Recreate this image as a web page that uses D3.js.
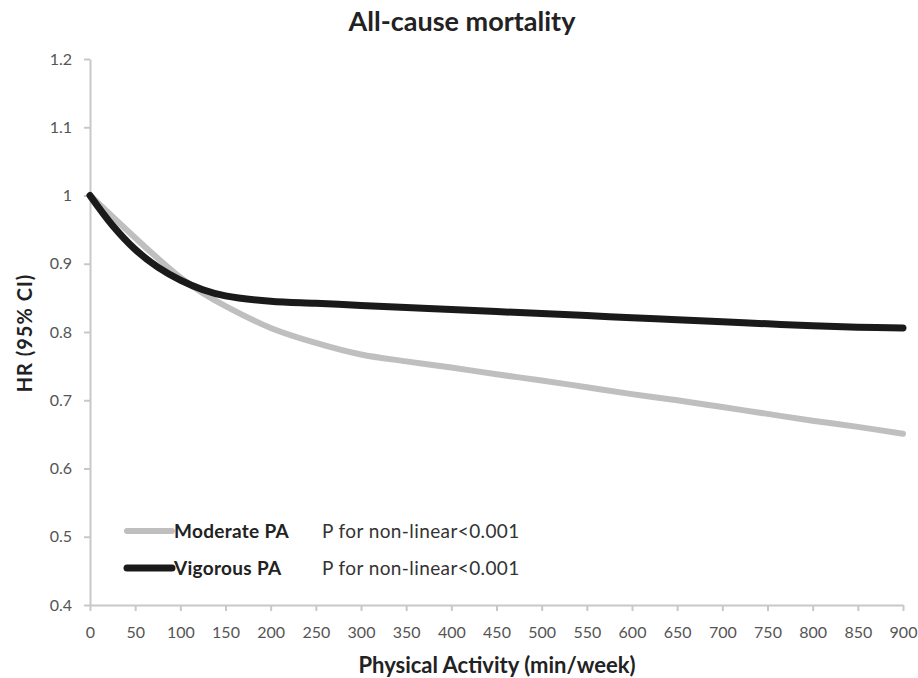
<!DOCTYPE html>
<html>
<head>
<meta charset="utf-8">
<script src="https://cdn.jsdelivr.net/npm/d3@7"></script>
<style>
  body { margin: 0; background: #fff; }
  text { font-family: Lato, "Open Sans", sans-serif; }
</style>
</head>
<body>
<div id="viz"></div>
<script>
// values
const minutes = [0, 25, 50, 75, 100, 125, 150, 200, 250, 300, 350, 400, 450, 500, 550, 600, 650, 700, 750, 800, 850, 900];
const moderate = [1.0, 0.969, 0.938, 0.908, 0.880, 0.857, 0.838, 0.806, 0.784, 0.767, 0.757, 0.748, 0.738, 0.729, 0.719, 0.709, 0.700, 0.690, 0.680, 0.670, 0.661, 0.651];
const vigorous = [1.0, 0.956, 0.921, 0.895, 0.876, 0.862, 0.853, 0.845, 0.842, 0.839, 0.836, 0.833, 0.830, 0.827, 0.824, 0.821, 0.818, 0.815, 0.812, 0.809, 0.807, 0.806];
const xTicks = d3.range(0, 901, 50);
const yTicks = [0.4, 0.5, 0.6, 0.7, 0.8, 0.9, 1, 1.1, 1.2];
const seriesNames = ["Moderate PA", "Vigorous PA"];
const pText = ["P for non-linear<0.001", "P for non-linear<0.001"];

const width = 918, height = 678;
const margin = {top: 59, right: 15, bottom: 73, left: 90};

const svg = d3.select('#viz').append('svg')
    .attr('width', width)
    .attr('height', height);

const x = d3.scaleLinear()
    .domain([0, 900])
    .range([margin.left, width - margin.right]);

const y = d3.scaleLinear()
    .domain([0.4, 1.2])
    .range([height - margin.bottom, margin.top]);

const axisColor = "#c8c8c8";
const labelColor = "#555";

// y axis
const yAxis = svg.append("g")
    .attr("transform", `translate(${margin.left},0)`)
    .call(d3.axisLeft(y).tickValues(yTicks).tickSize(6).tickSizeOuter(0)
      .tickFormat(d => d3.format("")(+d.toFixed(1))));
yAxis.selectAll("line, path").attr("stroke", axisColor).attr("stroke-width", 2);
yAxis.selectAll("text").attr("fill", labelColor).attr("font-size", 16).attr("dx", -9);

// x axis
const xAxis = svg.append("g")
    .attr("transform", `translate(0,${y(0.4)})`)
    .call(d3.axisBottom(x).tickValues(xTicks).tickSize(6).tickSizeOuter(0));
xAxis.selectAll("line, path").attr("stroke", axisColor).attr("stroke-width", 2);
xAxis.selectAll("text").attr("fill", labelColor).attr("font-size", 16)
    .attr("y", 33).attr("dy", 0);

// lines
const line = vals => d3.line()
    .x((d, i) => x(minutes[i]))
    .y(d => y(d))
    .curve(d3.curveCatmullRom.alpha(0.5))(vals);

svg.append("path")
    .attr("d", line(moderate))
    .attr("fill", "none")
    .attr("stroke", "#bfbfbf")
    .attr("stroke-width", 6)
    .attr("stroke-linecap", "round");

svg.append("path")
    .attr("d", line(vigorous))
    .attr("fill", "none")
    .attr("stroke", "#1a1a1a")
    .attr("stroke-width", 7)
    .attr("stroke-linecap", "round");

// legend
const legendColors = ["#bfbfbf", "#1a1a1a"];
const legend = svg.append("g");
seriesNames.forEach((name, i) => {
  const ly = 531 + i * 37;
  legend.append("line")
      .attr("x1", 127).attr("x2", 172)
      .attr("y1", ly).attr("y2", ly)
      .attr("stroke", legendColors[i])
      .attr("stroke-width", i ? 7 : 6)
      .attr("stroke-linecap", "round");
  legend.append("text")
      .attr("x", 174).attr("y", ly + 7)
      .attr("font-size", 19).attr("font-weight", "bold").attr("fill", "#222")
      .attr("letter-spacing", 0.3)
      .text(name);
  legend.append("text")
      .attr("x", 322).attr("y", ly + 7)
      .attr("font-size", 19).attr("fill", "#333").attr("letter-spacing", 0.4)
      .text(pText[i]);
});

// titles
svg.append("text")
    .attr("x", 462).attr("y", 31)
    .attr("text-anchor", "middle")
    .attr("font-size", 27).attr("font-weight", "bold").attr("fill", "#222")
    .text("All-cause mortality");

svg.append("text")
    .attr("x", 497).attr("y", 673)
    .attr("text-anchor", "middle")
    .attr("font-size", 22).attr("font-weight", "bold").attr("fill", "#222")
    .text("Physical Activity (min/week)");

svg.append("text")
    .attr("transform", "translate(32,333) rotate(-90)")
    .attr("text-anchor", "middle")
    .attr("font-size", 20).attr("font-weight", "bold").attr("fill", "#222")
    .attr("letter-spacing", 1)
    .text("HR (95% CI)");
</script>
</body>
</html>
